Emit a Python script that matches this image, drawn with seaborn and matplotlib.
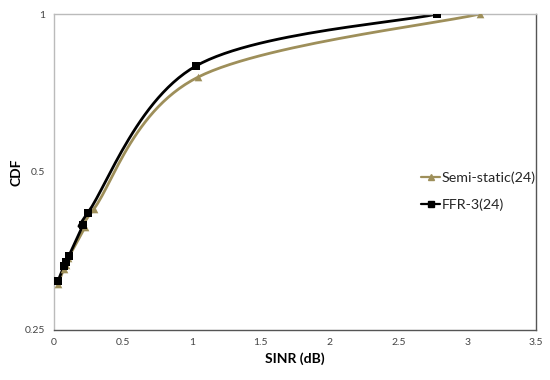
import numpy as np
import pandas as pd
import matplotlib
matplotlib.use("Agg")
import matplotlib.pyplot as plt
from matplotlib.lines import Line2D
from matplotlib.ticker import FixedLocator, FixedFormatter, NullLocator
import seaborn as sns

# ---- data ----
ffr_sinr = [0.03, 0.073, 0.087, 0.109, 0.211, 0.247, 1.03, 2.78]
ffr_cdf = [0.310, 0.331, 0.337, 0.346, 0.396, 0.418, 0.796, 1.0]
semi_sinr = [0.03, 0.07, 0.085, 0.105, 0.225, 0.29, 1.045, 3.09]
semi_cdf = [0.306, 0.326, 0.333, 0.343, 0.392, 0.425, 0.758, 1.0]
series_names = ["Semi-static(24)", "FFR-3(24)"]
x_ticks = [0, 0.5, 1, 1.5, 2, 2.5, 3, 3.5]
x_tick_labels = ["0", "0.5", "1", "1.5", "2", "2.5", "3", "3.5"]
y_ticks = [0.25, 0.5, 1]
y_tick_labels = ["0.25", "0.5", "1"]

sns.set_theme(style="white")
plt.rcParams["font.family"] = ["Lato", "DejaVu Sans"]

fig = plt.figure(figsize=(5.5, 3.8), dpi=100)
ax = fig.add_axes([0.098, 0.132, 0.877, 0.831])
ax.set_yscale("log", base=2)
ax.set_xlim(0, 3.5)
ax.set_ylim(0.25, 1.0)


def smooth(xs, ys, n=30):
    """Catmull-Rom smoothing (like a spreadsheet's smoothed line) in display space."""
    px = np.asarray(xs, float) / 3.5
    py = np.log2(np.asarray(ys, float)) / 2.0
    P = np.column_stack([px, py])
    P = np.vstack([P[0], P, P[-1]])
    out = []
    for i in range(1, len(P) - 2):
        p0, p1, p2, p3 = P[i - 1], P[i], P[i + 1], P[i + 2]
        t = np.linspace(0, 1, n)[:, None]
        seg = 0.5 * ((2 * p1) + (-p0 + p2) * t + (2 * p0 - 5 * p1 + 4 * p2 - p3) * t ** 2
                     + (-p0 + 3 * p1 - 3 * p2 + p3) * t ** 3)
        out.append(seg)
    out = np.vstack(out)
    return out[:, 0] * 3.5, 2.0 ** (out[:, 1] * 2.0)


olive = "#9E8F5A"
series = [
    (semi_sinr, semi_cdf, olive, "^", 5.5, 2.0, series_names[0]),
    (ffr_sinr, ffr_cdf, "black", "s", 5.2, 2.0, series_names[1]),
]
handles = []
for xs, ys, col, mk, ms, lw, name in series:
    sx, sy = smooth(xs, ys)
    sns.lineplot(x=sx, y=sy, sort=False, estimator=None, color=col, lw=lw, ax=ax)
    sns.scatterplot(x=xs, y=ys, marker=mk, color=col, s=ms ** 2,
                    edgecolor=col, linewidth=0, ax=ax, zorder=5)
    handles.append(Line2D([0], [0], color=col, lw=1.6, marker=mk, markersize=4))

ax.xaxis.set_major_locator(FixedLocator(x_ticks))
ax.xaxis.set_major_formatter(FixedFormatter(x_tick_labels))
ax.yaxis.set_major_locator(FixedLocator(y_ticks))
ax.yaxis.set_major_formatter(FixedFormatter(y_tick_labels))
ax.yaxis.set_minor_locator(NullLocator())
ax.tick_params(axis="both", labelsize=7.5, colors="#444444", length=0, pad=6)

ax.set_xlabel("SINR (dB)", fontsize=10, fontweight="bold", color="black", labelpad=4)
ax.set_ylabel("CDF", fontsize=10, fontweight="bold", color="black", labelpad=2)

for side, c in [("left", "#BBBBBB"), ("top", "#BBBBBB"), ("right", "#555555"), ("bottom", "#555555")]:
    ax.spines[side].set_visible(True)
    ax.spines[side].set_color(c)
    ax.spines[side].set_linewidth(1.0)

leg = ax.legend(handles, series_names, loc="center left", bbox_to_anchor=(0.735, 0.44),
                frameon=False, fontsize=10.3, handlelength=1.3, handletextpad=0.1,
                labelspacing=1.0)

fig.savefig("out.png", dpi=100)
